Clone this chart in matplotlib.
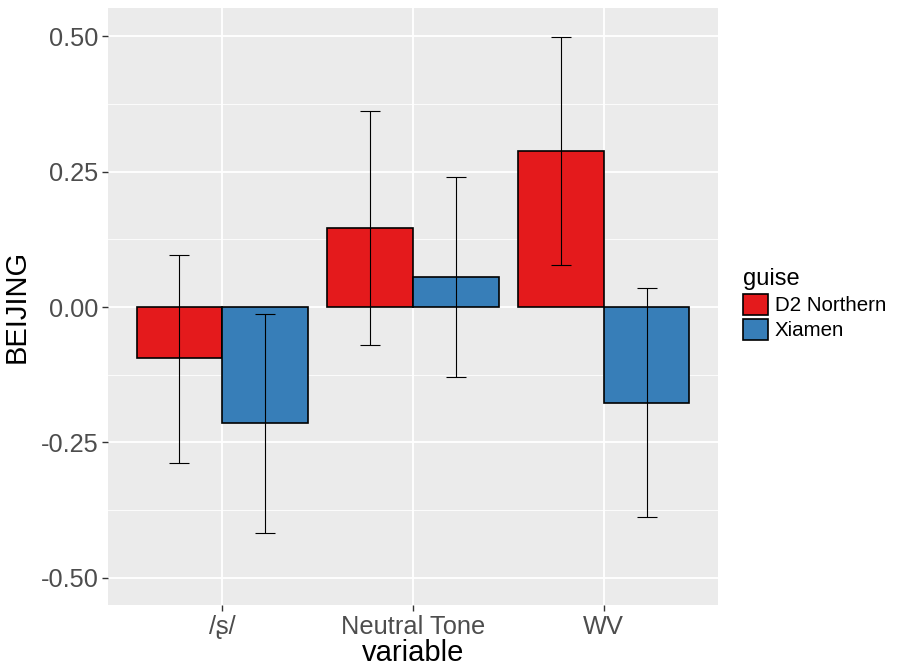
import matplotlib.pyplot as plt
import numpy as np
from matplotlib.patches import Patch

plt.rcParams['font.family'] = ['Liberation Sans', 'DejaVu Sans']

variables = ["/ʂ/", "Neutral Tone", "WV"]
guises = ["D2 Northern", "Xiamen"]
colors = ["#E41A1C", "#377EB8"]
means = {
    "D2 Northern": [-0.094, 0.146, 0.288],
    "Xiamen": [-0.214, 0.055, -0.177],
}
err_low = {
    "D2 Northern": [-0.288, -0.070, 0.077],
    "Xiamen": [-0.417, -0.129, -0.387],
}
err_high = {
    "D2 Northern": [0.096, 0.362, 0.498],
    "Xiamen": [-0.013, 0.240, 0.035],
}

fig = plt.figure(figsize=(8.99, 6.69), dpi=100)
ax = fig.add_axes([108 / 899, 1 - 605 / 669, 610 / 899, 597 / 669])
ax.set_facecolor("#EBEBEB")

x = np.arange(1, len(variables) + 1)
w = 0.45
for i, g in enumerate(guises):
    pos = x + (i - 0.5) * w
    ax.bar(pos, means[g], width=w, color=colors[i], edgecolor="black", linewidth=1.2, zorder=3)
    m = np.array(means[g])
    lo = m - np.array(err_low[g])
    hi = np.array(err_high[g]) - m
    ax.errorbar(pos, m, yerr=[lo, hi], fmt="none", ecolor="black", elinewidth=0.8,
                capsize=7, capthick=0.8, zorder=4)

ax.set_xlim(0.4, 3.6)
ax.set_ylim(-0.55, 0.552)
ax.set_yticks([-0.5, -0.25, 0, 0.25, 0.5])
ax.set_yticklabels(["-0.50", "-0.25", "0.00", "0.25", "0.50"])
ax.set_yticks([-0.375, -0.125, 0.125, 0.375], minor=True)
ax.set_xticks(x)
ax.set_xticklabels(variables)
ax.grid(which="major", color="white", linewidth=1.3, zorder=0)
ax.grid(which="minor", axis="y", color="white", linewidth=0.6, zorder=0)
ax.set_axisbelow(True)
for s in ax.spines.values():
    s.set_visible(False)
ax.tick_params(which="major", colors="#333333", labelcolor="#4D4D4D", labelsize=18.3,
               length=4, width=1, pad=3)
ax.tick_params(which="minor", length=0)
ax.set_xlabel("variable", fontsize=21, labelpad=0)
ax.set_ylabel("BEIJING", fontsize=21, labelpad=7)

handles = [Patch(facecolor=c, edgecolor="black", linewidth=1.2) for c in colors]
leg = fig.legend(handles, guises, title="guise", loc="upper left",
                 bbox_to_anchor=(743 / 899, 1 - 268 / 669), frameon=False,
                 fontsize=14.8, title_fontsize=17, handlelength=1.2, handleheight=1.2,
                 handletextpad=0.35, labelspacing=0.18, borderaxespad=0,
                 borderpad=0)
leg._legend_box.align = "left"

fig.savefig("out.png", dpi=100)
